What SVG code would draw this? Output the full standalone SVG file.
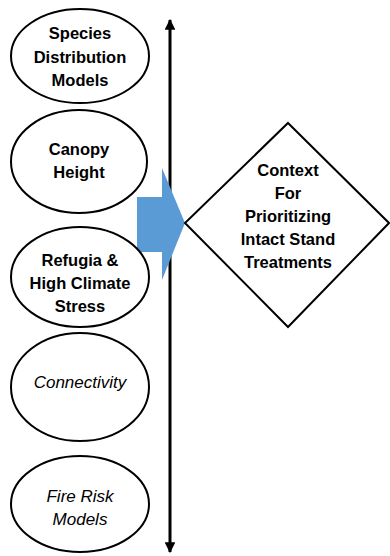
<svg xmlns="http://www.w3.org/2000/svg" width="390" height="556" viewBox="0 0 390 556">
  <style>
    .node { fill: #ffffff; stroke: #000000; stroke-width: 2; }
    .lbl { font-family: "Liberation Sans", Arial, sans-serif; font-size: 16.5px; font-weight: bold; fill: #000000; text-anchor: middle; }
    .ital { font-family: "Liberation Sans", Arial, sans-serif; font-size: 17px; font-style: italic; fill: #000000; text-anchor: middle; }
    .axis { stroke: #000000; stroke-width: 3; fill: none; }
  </style>
  <defs>
    <marker id="tip" viewBox="0 0 10 10" refX="9" refY="5" markerWidth="3.6" markerHeight="3.6" orient="auto-start-reverse">
      <path d="M0,0 L10,5 L0,10 z" fill="#000000"/>
    </marker>
  </defs>
  <rect width="390" height="556" fill="#ffffff"/>

  <g id="connectors">
    <line class="axis" x1="170" y1="20" x2="170" y2="552" marker-start="url(#tip)" marker-end="url(#tip)"/>
    <path d="M137,197 L162,197 L162,168 L185,223 L162,280 L162,252 L137,252 z" fill="#5b9bd5"/>
  </g>

  <g id="species">
    <ellipse class="node" cx="80" cy="56" rx="69" ry="47"/>
    <text class="lbl" x="80" y="39">Species</text>
    <text class="lbl" x="80" y="63">Distribution</text>
    <text class="lbl" x="80" y="86">Models</text>
  </g>

  <g id="canopy">
    <ellipse class="node" cx="79" cy="161.5" rx="68" ry="51.5"/>
    <text class="lbl" x="79" y="155">Canopy</text>
    <text class="lbl" x="79" y="178">Height</text>
  </g>

  <g id="refugia">
    <ellipse class="node" cx="80" cy="277" rx="69" ry="50"/>
    <text class="lbl" x="80" y="266">Refugia &amp;</text>
    <text class="lbl" x="80" y="289">High Climate</text>
    <text class="lbl" x="80" y="312">Stress</text>
  </g>

  <g id="connectivity">
    <ellipse class="node" cx="80" cy="387" rx="69" ry="54"/>
    <text class="ital" x="80" y="388">Connectivity</text>
  </g>

  <g id="fire-risk">
    <ellipse class="node" cx="80" cy="504" rx="69" ry="48"/>
    <text class="ital" x="80" y="502">Fire Risk</text>
    <text class="ital" x="80" y="525">Models</text>
  </g>

  <g id="context">
    <polygon class="node" points="288,123 389,223 288,327 185,223"/>
    <text class="lbl" x="288" y="176">Context</text>
    <text class="lbl" x="288" y="199">For</text>
    <text class="lbl" x="288" y="222">Prioritizing</text>
    <text class="lbl" x="288" y="245">Intact Stand</text>
    <text class="lbl" x="288" y="268">Treatments</text>
  </g>
</svg>
